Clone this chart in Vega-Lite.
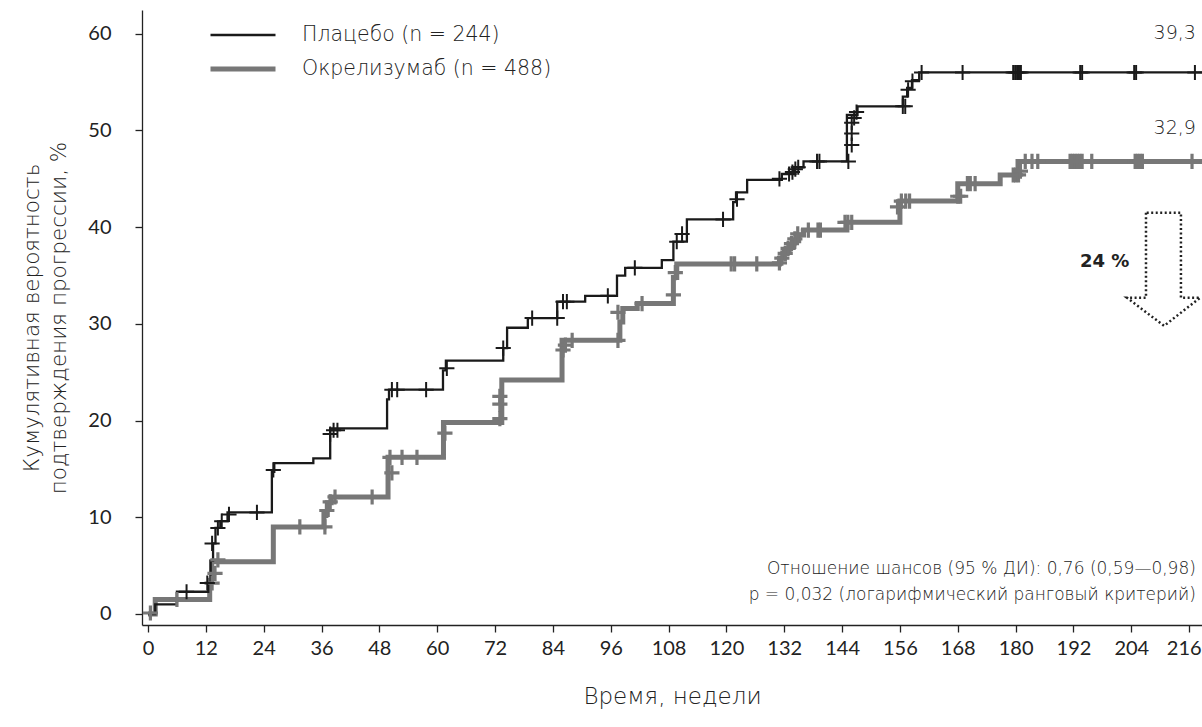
{
"$schema": "https://vega.github.io/schema/vega-lite/v6.json",
"width": 1060, "height": 615,
"autosize": {"type": "none"},
"padding": {"left": 142, "top": 10, "right": 0, "bottom": 102},
"background": "white",
"config": {
  "font": "DejaVu Sans",
  "view": {"stroke": null},
  "axis": {"domainColor": "#222", "domainWidth": 1.3, "tickColor": "#222", "tickWidth": 1.3, "tickSize": 7, "labelColor": "#222", "titleColor": "#222", "labelFontSize": 20, "titleFontWeight": 200, "grid": false, "labelFont": "Lato", "titleFont": "DejaVu Sans"},
  "legend": {"orient": "none", "legendX": 66, "legendY": 8, "symbolType": "stroke", "symbolSize": 4225, "labelFontSize": 20.5, "labelFont": "DejaVu Sans", "labelFontWeight": 200, "labelColor": "#222", "labelOffset": 24, "labelLimit": 500, "clipHeight": 34, "rowPadding": 0, "title": null}
},
"datasets": {
  "curves": [
    {"g":"Окрелизумаб (n = 488)","t":0,"v":0},{"g":"Окрелизумаб (n = 488)","t":1.5,"v":1.5},{"g":"Окрелизумаб (n = 488)","t":12.8,"v":3.5},{"g":"Окрелизумаб (n = 488)","t":13.2,"v":5.4},{"g":"Окрелизумаб (n = 488)","t":26,"v":9.0},{"g":"Окрелизумаб (n = 488)","t":36.5,"v":10.3},{"g":"Окрелизумаб (n = 488)","t":37.2,"v":11.5},{"g":"Окрелизумаб (n = 488)","t":38,"v":12.1},{"g":"Окрелизумаб (n = 488)","t":49.8,"v":16.2},{"g":"Окрелизумаб (n = 488)","t":61.3,"v":19.8},{"g":"Окрелизумаб (n = 488)","t":73.4,"v":24.2},{"g":"Окрелизумаб (n = 488)","t":85.9,"v":28.3},{"g":"Окрелизумаб (n = 488)","t":97.9,"v":30.2},{"g":"Окрелизумаб (n = 488)","t":98.5,"v":31.6},{"g":"Окрелизумаб (n = 488)","t":101.5,"v":32.1},{"g":"Окрелизумаб (n = 488)","t":109,"v":34.8},{"g":"Окрелизумаб (n = 488)","t":109.7,"v":36.2},{"g":"Окрелизумаб (n = 488)","t":131,"v":36.8},{"g":"Окрелизумаб (n = 488)","t":132,"v":37.4},{"g":"Окрелизумаб (n = 488)","t":133,"v":38.0},{"g":"Окрелизумаб (n = 488)","t":134,"v":38.6},{"g":"Окрелизумаб (n = 488)","t":135,"v":39.2},{"g":"Окрелизумаб (n = 488)","t":136,"v":39.7},{"g":"Окрелизумаб (n = 488)","t":145,"v":40.5},{"g":"Окрелизумаб (n = 488)","t":156,"v":42.7},{"g":"Окрелизумаб (n = 488)","t":168,"v":44.5},{"g":"Окрелизумаб (n = 488)","t":176.8,"v":45.4},{"g":"Окрелизумаб (n = 488)","t":180.5,"v":46.8},{"g":"Окрелизумаб (n = 488)","t":219,"v":46.8},
    {"g":"Плацебо (n = 244)","t":0,"v":0},{"g":"Плацебо (n = 244)","t":1.5,"v":1.0},{"g":"Плацебо (n = 244)","t":6,"v":2.3},{"g":"Плацебо (n = 244)","t":12.5,"v":3.2},{"g":"Плацебо (n = 244)","t":13,"v":5.5},{"g":"Плацебо (n = 244)","t":13.5,"v":7.3},{"g":"Плацебо (n = 244)","t":14,"v":8.9},{"g":"Плацебо (n = 244)","t":15,"v":9.6},{"g":"Плацебо (n = 244)","t":16.5,"v":10.5},{"g":"Плацебо (n = 244)","t":25.7,"v":14.7},{"g":"Плацебо (n = 244)","t":26.2,"v":15.6},{"g":"Плацебо (n = 244)","t":34.3,"v":16.1},{"g":"Плацебо (n = 244)","t":37.8,"v":19.2},{"g":"Плацебо (n = 244)","t":49.6,"v":22.2},{"g":"Плацебо (n = 244)","t":50,"v":23.2},{"g":"Плацебо (n = 244)","t":61.2,"v":25.2},{"g":"Плацебо (n = 244)","t":61.8,"v":26.2},{"g":"Плацебо (n = 244)","t":73.7,"v":27.5},{"g":"Плацебо (n = 244)","t":74.5,"v":29.6},{"g":"Плацебо (n = 244)","t":78.8,"v":30.6},{"g":"Плацебо (n = 244)","t":84.9,"v":32.3},{"g":"Плацебо (n = 244)","t":90.7,"v":32.9},{"g":"Плацебо (n = 244)","t":97.3,"v":35.0},{"g":"Плацебо (n = 244)","t":99,"v":35.8},{"g":"Плацебо (n = 244)","t":106.6,"v":36.6},{"g":"Плацебо (n = 244)","t":109,"v":38.5},{"g":"Плацебо (n = 244)","t":111.8,"v":40.8},{"g":"Плацебо (n = 244)","t":121.4,"v":42.6},{"g":"Плацебо (n = 244)","t":122,"v":43.6},{"g":"Плацебо (n = 244)","t":124.3,"v":44.9},{"g":"Плацебо (n = 244)","t":131.5,"v":45.5},{"g":"Плацебо (n = 244)","t":134,"v":46.2},{"g":"Плацебо (n = 244)","t":136,"v":46.8},{"g":"Плацебо (n = 244)","t":145,"v":51.6},{"g":"Плацебо (n = 244)","t":147.2,"v":52.5},{"g":"Плацебо (n = 244)","t":156.6,"v":53.5},{"g":"Плацебо (n = 244)","t":157.5,"v":54.4},{"g":"Плацебо (n = 244)","t":158.5,"v":55.2},{"g":"Плацебо (n = 244)","t":160,"v":56.0},{"g":"Плацебо (n = 244)","t":219,"v":56.0}
  ],
  "censP": [
    {"t":8,"v":2.3},{"t":12.3,"v":3.2},{"t":13.3,"v":7.3},{"t":14.5,"v":8.9},{"t":15.3,"v":9.6},{"t":16.8,"v":10.3},{"t":22.6,"v":10.5},{"t":26,"v":14.9},{"t":37.8,"v":18.6},{"t":38.5,"v":19.0},{"t":39.3,"v":19.0},{"t":50.6,"v":23.2},{"t":51.7,"v":23.2},{"t":57.7,"v":23.2},{"t":62,"v":25.4},{"t":73.7,"v":27.5},{"t":79.7,"v":30.6},{"t":84.9,"v":30.6},{"t":86.1,"v":32.3},{"t":86.9,"v":32.3},{"t":95.4,"v":32.9},{"t":101,"v":35.8},{"t":109.7,"v":38.5},{"t":110.8,"v":39.3},{"t":119.3,"v":40.8},{"t":122.2,"v":42.9},{"t":131,"v":45.0},{"t":133,"v":45.5},{"t":133.7,"v":45.7},{"t":134.3,"v":46.0},{"t":134.9,"v":46.2},{"t":138.8,"v":46.8},{"t":139.3,"v":46.8},{"t":145.3,"v":46.8},{"t":146,"v":48.5},{"t":146,"v":49.7},{"t":146,"v":50.8},{"t":146.5,"v":51.3},{"t":147,"v":51.9},{"t":156.6,"v":52.5},{"t":157.1,"v":52.5},{"t":157.7,"v":54.2},{"t":158.6,"v":55.1},{"t":160.5,"v":56},{"t":169,"v":56},{"t":179.5,"v":56},{"t":179.9,"v":56},{"t":180.3,"v":56},{"t":180.7,"v":56},{"t":181.1,"v":56},{"t":193.4,"v":56},{"t":193.8,"v":56},{"t":204.6,"v":56},{"t":205,"v":56},{"t":217.2,"v":56}
  ],
  "censO": [
    {"t":0.5,"v":0.1},{"t":6,"v":1.5},{"t":13.3,"v":3.2},{"t":13.9,"v":4.2},{"t":14.5,"v":5.6},{"t":31.5,"v":9.0},{"t":36.7,"v":9.0},{"t":37.1,"v":10.7},{"t":37.8,"v":11.6},{"t":38.8,"v":12.1},{"t":46.5,"v":12.1},{"t":50.2,"v":16.2},{"t":50.6,"v":14.6},{"t":52.7,"v":16.2},{"t":55.8,"v":16.2},{"t":61.6,"v":18.7},{"t":73,"v":20.2},{"t":73,"v":21.7},{"t":73,"v":22.5},{"t":86.1,"v":27.3},{"t":86.6,"v":27.8},{"t":88,"v":28.3},{"t":97.5,"v":28.3},{"t":97.5,"v":31.2},{"t":102.5,"v":32.1},{"t":109,"v":33.0},{"t":109.4,"v":35.3},{"t":121,"v":36.2},{"t":121.7,"v":36.2},{"t":126.3,"v":36.2},{"t":131,"v":36.3},{"t":131.5,"v":36.8},{"t":132.2,"v":37.3},{"t":132.8,"v":37.8},{"t":133.5,"v":38.3},{"t":134.2,"v":38.8},{"t":134.8,"v":39.3},{"t":137,"v":39.7},{"t":139,"v":39.7},{"t":139.5,"v":39.7},{"t":144.6,"v":40.5},{"t":145.2,"v":40.5},{"t":146,"v":40.5},{"t":155.5,"v":42.1},{"t":156.3,"v":42.7},{"t":157.2,"v":42.7},{"t":158,"v":42.7},{"t":168,"v":43.2},{"t":168.6,"v":43.2},{"t":170,"v":44.5},{"t":170.6,"v":44.5},{"t":171.6,"v":44.5},{"t":179.5,"v":45.4},{"t":180,"v":45.4},{"t":180.6,"v":45.4},{"t":181,"v":45.8},{"t":182,"v":46.8},{"t":183.4,"v":46.8},{"t":184.6,"v":46.8},{"t":191.3,"v":46.8},{"t":191.8,"v":46.8},{"t":192.3,"v":46.8},{"t":192.8,"v":46.8},{"t":193.3,"v":46.8},{"t":193.8,"v":46.8},{"t":195.8,"v":46.8},{"t":204.8,"v":46.8},{"t":205.3,"v":46.8},{"t":205.8,"v":46.8},{"t":206.3,"v":46.8},{"t":216.6,"v":46.8}
  ],
  "endlabels": [{"t":217.4,"v":60.1,"txt":"39,3"},{"t":217.4,"v":50.3,"txt":"32,9"}],
  "stats": [{"t":217.4,"v":4.65,"txt":"Отношение шансов (95 % ДИ): 0,76 (0,59—0,98)"},{"t":217.4,"v":1.96,"txt":"p = 0,032 (логарифмический ранговый критерий)"}],
  "pct": [{"t":203.6,"v":36.4,"txt":"24 %"}],
  "arrow": [{"i":0,"t":207.05,"v":41.5},{"i":1,"t":207.05,"v":32.7},{"i":2,"t":203.1,"v":32.7},{"i":3,"t":210.8,"v":29.8},{"i":4,"t":218.3,"v":32.7},{"i":5,"t":214.3,"v":32.7},{"i":6,"t":214.3,"v":41.5},{"i":7,"t":207.05,"v":41.5}]
},
"encoding": {
  "x": {"field": "t", "type": "quantitative", "scale": {"domain": [-1.245, 218.67], "nice": false, "zero": false},
        "axis": {"values": [0,12,24,36,48,60,72,84,96,108,120,132,144,156,168,180,192,204,216], "title": "Время, недели", "titleFontSize": 23, "labelPadding": 6, "titlePadding": 27,
                 "labelAlign": {"expr": "datum.value == 216 ? 'right' : 'center'"},
                 "labelOffset": {"expr": "datum.value == 216 ? 12 : 0"}}},
  "y": {"field": "v", "type": "quantitative", "scale": {"domain": [-1.14, 62.46], "nice": false, "zero": false},
        "axis": {"values": [0,10,20,30,40,50,60], "title": ["Кумулятивная вероятность", "подтверждения прогрессии, %"], "titleFontSize": 21.5, "titleLineHeight": 27, "labelPadding": 24, "titlePadding": 17}}
},
"layer": [
  {"data": {"name": "curves"}, "mark": {"type": "line", "interpolate": "step-after"},
   "encoding": {
     "color": {"field": "g", "type": "ordinal", "scale": {"domain": ["Плацебо (n = 244)", "Окрелизумаб (n = 488)"], "range": ["#1a1a1a", "#777777"]}},
     "strokeWidth": {"field": "g", "type": "ordinal", "scale": {"domain": ["Плацебо (n = 244)", "Окрелизумаб (n = 488)"], "range": [2.3, 5]}},
     "order": {"field": "g", "sort": "ascending"}
   }},
  {"data": {"name": "censO"}, "mark": {"type": "point", "shape": "M-1,0L1,0M0,-1L0,1", "filled": false, "size": 230, "stroke": "#777777", "strokeWidth": 3.2, "opacity": 1}},
  {"data": {"name": "censP"}, "mark": {"type": "point", "shape": "M-1,0L1,0M0,-1L0,1", "filled": false, "size": 230, "stroke": "#1a1a1a", "strokeWidth": 2, "opacity": 1}},
  {"data": {"name": "endlabels"}, "mark": {"type": "text", "align": "right", "baseline": "middle", "fontSize": 19, "fontWeight": 200, "color": "#222"}, "encoding": {"text": {"field": "txt"}}},
  {"data": {"name": "stats"}, "mark": {"type": "text", "align": "right", "baseline": "middle", "fontSize": 17, "fontWeight": 200, "color": "#222"}, "encoding": {"text": {"field": "txt"}}},
  {"data": {"name": "pct"}, "mark": {"type": "text", "align": "right", "baseline": "middle", "fontSize": 18, "fontWeight": "bold", "color": "#222"}, "encoding": {"text": {"field": "txt"}}},
  {"data": {"name": "arrow"}, "mark": {"type": "line", "strokeDash": [2, 2.5], "strokeWidth": 2.5, "color": "#222"}, "encoding": {"order": {"field": "i", "type": "quantitative"}}}
]
}
